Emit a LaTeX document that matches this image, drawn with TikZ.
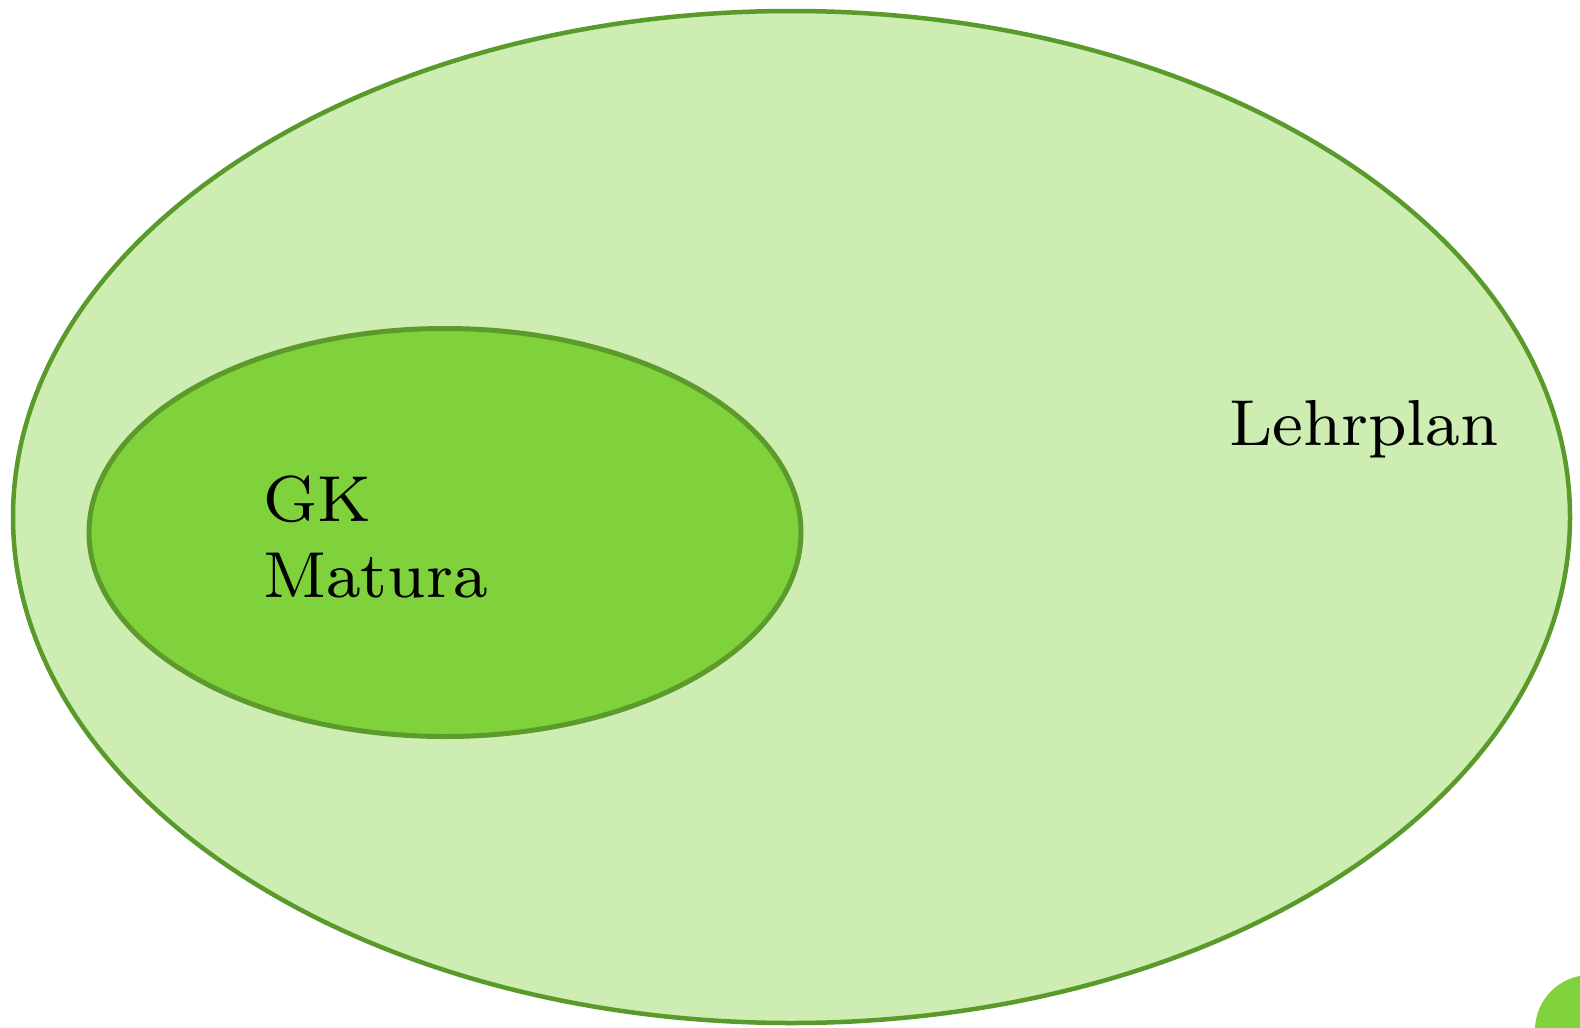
\documentclass[tikz,border=0pt]{standalone}
\usepackage{fontspec}
\newfontfamily\labelfont{lmroman8-regular}[Extension=.otf]
\definecolor{outerfill}{HTML}{CDEDB3}
\definecolor{outerline}{HTML}{5A9A2A}
\definecolor{innerfill}{HTML}{7FD23B}
\definecolor{innerline}{HTML}{5C9A2B}
\tikzset{
  label text/.style={font=\labelfont\fontsize{65}{76}\selectfont, inner sep=0pt, align=left},
}
\begin{document}
\begin{tikzpicture}[x=1pt, y=-1pt]
  \useasboundingbox (0,0) rectangle (1580,1028);
  % curriculum set
  \draw[fill=outerfill, draw=outerline, line width=4.5pt]
    (791.5,517) ellipse [x radius=778.5, y radius=506];
  % exam-relevant core competences
  \draw[fill=innerfill, draw=innerline, line width=5pt]
    (445,532.5) ellipse [x radius=356, y radius=204];
  \node[label text, anchor=base west] (gk) at (263,597) {GK\\Matura};
  \node[label text, anchor=base west] (lehrplan) at (1229,445) {Lehrplan};
  % corner marker
  \fill[innerfill] (1590,1030) circle [radius=55];
\end{tikzpicture}
\end{document}
